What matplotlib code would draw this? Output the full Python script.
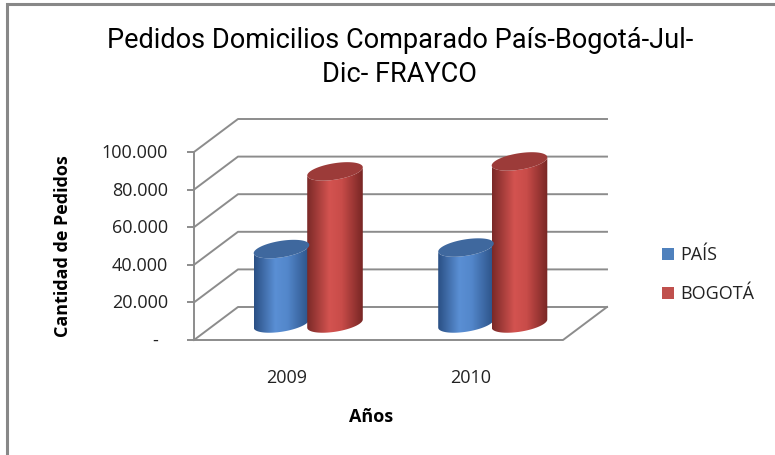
import numpy as np
import matplotlib
matplotlib.use('Agg')
import matplotlib.pyplot as plt
from matplotlib.colors import LinearSegmentedColormap
from matplotlib.patches import Polygon, Rectangle

# data
years = ['2009', '2010']
pais = [39600, 40400]
bogota = [80900, 86200]
yticks = [0, 20000, 40000, 60000, 80000, 100000]
ytick_labels = ['-', '20.000', '40.000', '60.000', '80.000', '100.000']
series_names = ['PAÍS', 'BOGOTÁ']
title_lines = ['Pedidos Domicilios Comparado País-Bogotá-Jul-', 'Dic- FRAYCO']

W, H = 775, 456
fig = plt.figure(figsize=(W / 100, H / 100), dpi=100)
ax = fig.add_axes([194 / W, 1 - 341 / H, 369 / W, 188 / H])
ax.set_xlim(-0.5, 1.5)
ax.set_ylim(0, 100000)
for s in ['top', 'right', 'bottom']:
    ax.spines[s].set_visible(False)
grid_c = '#8c8c8c'
ax.spines['left'].set_color(grid_c)
ax.spines['left'].set_linewidth(1.4)
ax.patch.set_alpha(0)

# oblique depth offset (data units)
ddx = 44 / 369 * 2
ddy = 33 / 188 * 100000

# walls and floor
for v in yticks:
    ax.plot([-0.5, -0.5 + ddx, 1.5 + ddx], [v, v + ddy, v + ddy],
            color=grid_c, lw=1.4, clip_on=False, zorder=1)
ax.plot([-0.5, 1.5, 1.5 + ddx], [0, 0, ddy], color=grid_c, lw=1.4,
        clip_on=False, zorder=1)

ui_font = 'Open Sans'
txt_c = '#222222'
ax.set_yticks(yticks)
ax.set_yticklabels([''] * len(yticks))
ax.tick_params(axis='y', direction='out', length=5, width=1.4, color=grid_c)
for v, lab in zip(yticks, ytick_labels):
    if lab == '-':
        ax.text(-0.106, v, lab, transform=ax.get_yaxis_transform(), ha='center',
                va='center', fontsize=13, family=ui_font, color=txt_c)
    else:
        ax.text(-0.07, v, lab, transform=ax.get_yaxis_transform(), ha='right',
                va='center', fontsize=13, family=ui_font, color=txt_c)
ax.set_xticks([0, 1])
ax.set_xticklabels(years, family=ui_font, fontsize=13, color=txt_c)
ax.tick_params(axis='x', length=0, pad=20)

# cylinders
blue_cm = LinearSegmentedColormap.from_list(
    'b', [(0, '#2a4f84'), (0.38, '#5a8fd4'), (0.6, '#5387cb'), (1, '#2b5186')])
red_cm = LinearSegmentedColormap.from_list(
    'r', [(0, '#7a2927'), (0.4, '#d35350'), (0.62, '#c94c49'), (1, '#772624')])
tops = ['#3f689e', '#9c3b39']

bw = 0.29
rx = 0.135
a = 0.28  # depth radius as fraction of full depth
t0 = np.arctan2(a * ddx, rx)
tf = np.linspace(t0 + np.pi, t0 + 2 * np.pi, 80)
tt = np.linspace(0, 2 * np.pi, 120)

def ellipse(cx, cy, t):
    return cx + rx * np.cos(t) + a * ddx * np.sin(t), cy + a * ddy * np.sin(t)

for si, (vals, cm) in enumerate([(pais, blue_cm), (bogota, red_cm)]):
    for i, v in enumerate(vals):
        cx = i + (si - 0.5) * bw + ddx / 2
        cy = ddy / 2
        bx, by = ellipse(cx, cy, tf)
        tx, ty = ellipse(cx, cy + v, tf[::-1])
        pts = np.column_stack([np.r_[bx, tx], np.r_[by, ty]])
        body = Polygon(pts, closed=True, transform=ax.transData,
                       facecolor='none', edgecolor='none')
        ax.add_patch(body)
        grad = np.linspace(0, 1, 256).reshape(1, -1)
        im = ax.imshow(grad, cmap=cm, aspect='auto', zorder=3,
                       extent=[pts[:, 0].min(), pts[:, 0].max(),
                               pts[:, 1].min(), pts[:, 1].max()])
        im.set_clip_path(body)
        ex, ey = ellipse(cx, cy + v, tt)
        ax.add_patch(Polygon(np.column_stack([ex, ey]), closed=True,
                             facecolor=tops[si], edgecolor='none', zorder=4))
ax.set_xlim(-0.5, 1.5)
ax.set_ylim(0, 100000)

# titles and labels
for k, line in enumerate(title_lines):
    fig.text(400 / W, 1 - (48 + 34 * k) / H, line, ha='center', va='baseline',
             fontsize=19.5, family='Roboto', color='black')
fig.text(63 / W, 1 - 246 / H, 'Cantidad de Pedidos', rotation=90, ha='center',
         va='center', fontsize=13, fontweight='bold', family=ui_font)
fig.text(371 / W, 1 - 417 / H, 'Años', ha='center', va='center', fontsize=13,
         fontweight='bold', family=ui_font)

# legend
for k, (name, col) in enumerate(zip(series_names, ['#4f81bd', '#c0504d'])):
    yc = 1 - (255 + 39 * k) / H
    fig.patches.append(Rectangle((662 / W, yc - 6 / H), 12 / W, 12 / H,
                                 transform=fig.transFigure, facecolor=col,
                                 edgecolor='none'))
    fig.text(680 / W, yc, name, ha='left', va='center', fontsize=13,
             family=ui_font, color=txt_c)

# chart border
fig.patches.append(Rectangle((7 / W, -0.1), 1.2, 1 - 5 / H + 0.1,
                             transform=fig.transFigure, facecolor='none',
                             edgecolor='#888888', lw=2.2))

fig.savefig('out.png', dpi=100)
